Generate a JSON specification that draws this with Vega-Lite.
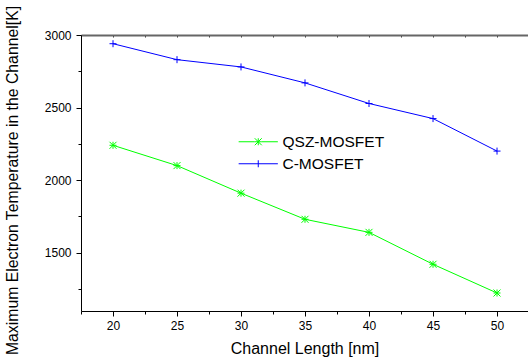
{
  "$schema": "https://vega.github.io/schema/vega-lite/v6.json",
  "autosize": "none",
  "width": 447,
  "height": 276,
  "padding": {"left": 81, "top": 35, "right": 0, "bottom": 50},
  "background": "white",
  "config": {
    "view": {"stroke": null},
    "font": "Liberation Sans",
    "axis": {"labelFont": "Liberation Sans", "titleFont": "Liberation Sans", "labelColor": "black", "titleColor": "black", "titleFontWeight": "normal", "grid": false}
  },
  "data": {
    "values": [
      {"length": 20, "temp": 2240, "device": "QSZ-MOSFET"},
      {"length": 25, "temp": 2100, "device": "QSZ-MOSFET"},
      {"length": 30, "temp": 1910, "device": "QSZ-MOSFET"},
      {"length": 35, "temp": 1730, "device": "QSZ-MOSFET"},
      {"length": 40, "temp": 1640, "device": "QSZ-MOSFET"},
      {"length": 45, "temp": 1420, "device": "QSZ-MOSFET"},
      {"length": 50, "temp": 1222, "device": "QSZ-MOSFET"},
      {"length": 20, "temp": 2940, "device": "C-MOSFET"},
      {"length": 25, "temp": 2830, "device": "C-MOSFET"},
      {"length": 30, "temp": 2780, "device": "C-MOSFET"},
      {"length": 35, "temp": 2670, "device": "C-MOSFET"},
      {"length": 40, "temp": 2528, "device": "C-MOSFET"},
      {"length": 45, "temp": 2424, "device": "C-MOSFET"},
      {"length": 50, "temp": 2200, "device": "C-MOSFET"}
    ]
  },
  "encoding": {
    "y": {
      "field": "temp", "type": "quantitative",
      "scale": {"domain": [1098, 3000], "nice": false, "zero": false},
      "axis": {
        "title": "Maximum Electron Temperature in the Channel[K]",
        "titleFontSize": 15.8,
        "titlePadding": 24,
        "titleY": 145,
        "values": [1250, 1500, 1750, 2000, 2250, 2500, 2750, 3000],
        "labelExpr": "datum.value % 500 === 0 ? '' + datum.value : ''",
        "labelOverlap": false,
        "labelFontSize": 12,
        "labelPadding": 5,
        "tickSize": {"condition": {"test": "datum.value % 500 === 0", "value": 5}, "value": 3},
        "tickColor": "black",
        "domainColor": "black",
        "domainWidth": 1,
        "labelFlush": false
      }
    }
  },
  "resolve": {"axis": {"x": "independent"}},
  "layer": [
    {
      "mark": {"type": "line", "strokeWidth": 1},
      "encoding": {
        "x": {
          "field": "length", "type": "quantitative",
          "scale": {"domain": [17.5, 52.42], "nice": false, "zero": false},
          "axis": {
            "orient": "bottom",
            "title": "Channel Length [nm]",
            "titleFontSize": 16,
            "titlePadding": 9,
            "values": [17.5, 20, 22.5, 25, 27.5, 30, 32.5, 35, 37.5, 40, 42.5, 45, 47.5, 50],
            "labelExpr": "datum.value % 5 === 0 ? datum.label : ''",
            "labelOverlap": false,
            "labelFontSize": 12,
            "labelPadding": 4,
            "tickSize": {"condition": {"test": "datum.value % 5 === 0", "value": 5}, "value": 3},
            "tickColor": "black",
            "domainColor": "black",
            "domainWidth": 1,
            "labelFlush": false
          }
        },
        "color": {
          "field": "device", "type": "nominal",
          "scale": {"domain": ["QSZ-MOSFET", "C-MOSFET"], "range": ["#00ff00", "#0000ff"]},
          "legend": {
            "title": null,
            "orient": "none",
            "legendX": 169.5,
            "legendY": 99,
            "padding": 0,
            "labelFont": "Liberation Sans",
            "labelFontSize": 15.5,
            "labelColor": "black",
            "labelOffset": 16.5,
            "symbolSize": 49,
            "rowPadding": 5,
            "encode": {
              "symbols": {
                "update": {
                  "shape": {"signal": "datum.value === 'QSZ-MOSFET' ? 'M-5.6,0L-1,0M1,0L5.6,0M-1,-1L1,1M-1,1L1,-1M0,-1L0,1M-1,0L1,0' : 'M-5.6,0L5.6,0M0,-1L0,1'"},
                  "strokeWidth": {"value": 1},
                  "fill": {"value": "transparent"}
                }
              }
            }
          }
        }
      }
    },
    {
      "transform": [{"filter": "datum.device === 'QSZ-MOSFET'"}],
      "mark": {"type": "point", "filled": false, "strokeWidth": 1, "opacity": 1, "color": "#00ff00", "shape": "M-1,-1L1,1M-1,1L1,-1M0,-1L0,1M-1,0L1,0", "size": 49},
      "encoding": {
        "x": {
          "field": "length", "type": "quantitative",
          "scale": {"domain": [17.5, 52.42], "nice": false, "zero": false},
          "axis": {
            "orient": "top",
            "title": null,
            "labels": false,
            "values": [17.5, 20, 22.5, 25, 27.5, 30, 32.5, 35, 37.5, 40, 42.5, 45, 47.5, 50],
            "tickSize": -2,
            "tickColor": "#333",
            "domainColor": "#666",
            "domainWidth": 2
          }
        }
      }
    },
    {
      "transform": [{"filter": "datum.device === 'C-MOSFET'"}],
      "mark": {"type": "point", "filled": false, "strokeWidth": 1, "opacity": 1, "color": "#0000ff", "shape": "M0,-1L0,1M-1,0L1,0", "size": 49},
      "encoding": {
        "x": {
          "field": "length", "type": "quantitative",
          "scale": {"domain": [17.5, 52.42], "nice": false, "zero": false},
          "axis": null
        }
      }
    }
  ]
}
